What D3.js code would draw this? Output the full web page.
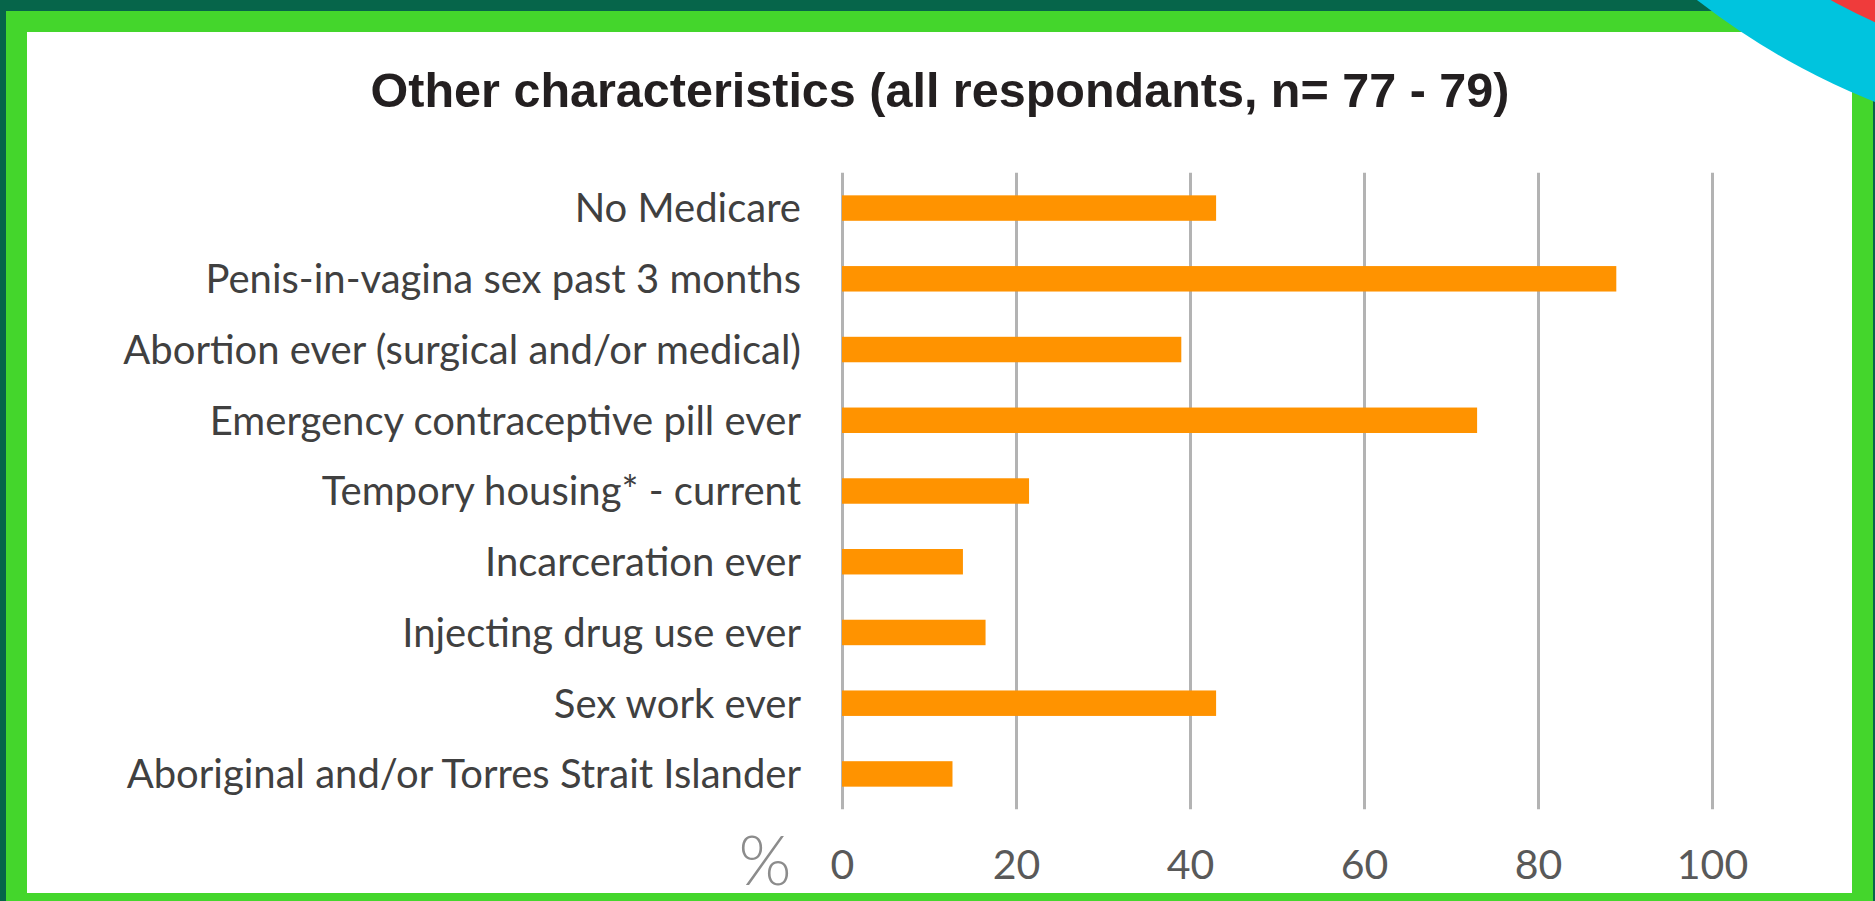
<!DOCTYPE html>
<html>
<head>
<meta charset="utf-8">
<script src="https://cdn.jsdelivr.net/npm/d3@7"></script>
<style>
  html, body { margin: 0; padding: 0; background: #06654a; overflow: hidden; }
  svg { display: block; }
</style>
</head>
<body>
<svg id="chart" width="1875" height="901"></svg>
<script>
// Survey characteristics, percent of respondents
const categories = [
  "No Medicare",
  "Penis-in-vagina sex past 3 months",
  "Abortion ever (surgical and/or medical)",
  "Emergency contraceptive pill ever",
  "Tempory housing* - current",
  "Incarceration ever",
  "Injecting drug use ever",
  "Sex work ever",
  "Aboriginal and/or Torres Strait Islander"
];
const percentValues = [43, 89, 39, 73, 21.5, 13.9, 16.5, 43, 12.7];
const tickValues = [0, 20, 40, 60, 80, 100];
const titleText = "Other characteristics (all respondants, n= 77 - 79)";
const unitLabel = "%";

const W = 1875, H = 901;
const svg = d3.select("#chart");

// Frame: dark green page, bright green border, white panel
svg.append("rect").attr("x", 0).attr("y", 0).attr("width", W).attr("height", H).attr("fill", "#06654a");
svg.append("rect").attr("x", 6).attr("y", 11).attr("width", 1867).attr("height", H - 11).attr("fill", "#44d62c");
svg.append("rect").attr("x", 27).attr("y", 32).attr("width", 1825).attr("height", 861).attr("fill", "#ffffff");

// Corner decoration: concentric discs
svg.append("circle").attr("cx", 2147.6).attr("cy", -580).attr("r", 734.5).attr("fill", "#00c4de");
svg.append("circle").attr("cx", 2147.6).attr("cy", -580).attr("r", 661).attr("fill", "#ef3b3b");

// Title
svg.append("text")
  .attr("x", 940).attr("y", 107)
  .attr("text-anchor", "middle")
  .attr("font-family", "'Liberation Sans', Arial, sans-serif")
  .attr("font-weight", "bold")
  .attr("font-size", 48.5)
  .attr("fill", "#231f20")
  .text(titleText);

// Scales
const plotLeft = 842, plotRight = 1712, plotTop = 172.7, plotBottom = 809.3;
const x = d3.scaleLinear().domain([0, 100]).range([plotLeft, plotRight]);
const y = d3.scaleBand().domain(categories).range([plotTop, plotBottom])
  .paddingInner(0.64).paddingOuter(0.32);

// Vertical gridlines
const grid = svg.append("g")
  .attr("transform", `translate(0,${plotBottom})`)
  .call(d3.axisBottom(x).tickValues(tickValues).tickSize(-(plotBottom - plotTop)).tickFormat(""));
grid.select(".domain").remove();
grid.selectAll(".tick line").attr("stroke", "#b3b3b3").attr("stroke-width", 3);

// Bars
svg.append("g").selectAll("rect")
  .data(categories.map((c, i) => ({ c, v: percentValues[i] })))
  .join("rect")
  .attr("x", x(0))
  .attr("y", d => y(d.c))
  .attr("width", d => x(d.v) - x(0))
  .attr("height", y.bandwidth())
  .attr("fill", "#ff9300");

// Category labels
const yAxis = svg.append("g")
  .attr("transform", `translate(${plotLeft},0)`)
  .call(d3.axisLeft(y).tickSize(0).tickPadding(41));
yAxis.select(".domain").remove();
yAxis.selectAll("text")
  .attr("font-family", "Lato, 'Open Sans', sans-serif")
  .attr("font-size", 40)
  .attr("fill", "#404040")
  .attr("dy", "0.36em");

// Value tick labels
const xAxis = svg.append("g")
  .attr("transform", `translate(0,${plotBottom})`)
  .call(d3.axisBottom(x).tickValues(tickValues).tickSize(0).tickPadding(0).tickFormat(d3.format("d")));
xAxis.select(".domain").remove();
xAxis.selectAll("text")
  .attr("font-family", "Lato, 'Open Sans', sans-serif")
  .attr("font-size", 41)
  .attr("fill", "#595959")
  .attr("y", 70)
  .attr("dy", 0);

// Unit label
svg.append("text")
  .attr("x", 765).attr("y", 885)
  .attr("text-anchor", "middle")
  .attr("font-family", "Lato, 'Open Sans', sans-serif")
  .attr("font-weight", 300)
  .attr("font-size", 68)
  .attr("fill", "#8c8c8c")
  .text(unitLabel);
</script>
</body>
</html>
